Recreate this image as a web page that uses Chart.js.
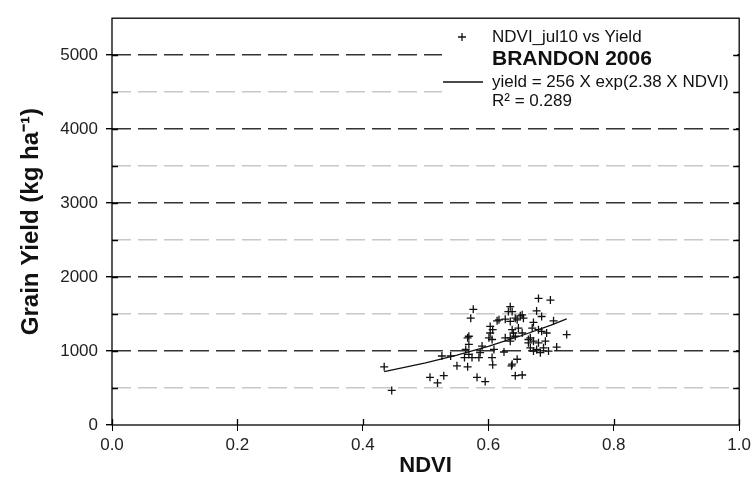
<!DOCTYPE html>
<html>
<head>
<meta charset="utf-8">
<script src="https://cdn.jsdelivr.net/npm/chart.js@4.4.0/dist/chart.umd.min.js"></script>
<style>
  html, body { margin: 0; padding: 0; background: #fff; }
  #wrap { width: 755px; height: 487px; }
</style>
</head>
<body>
<div id="wrap"><canvas id="chart" width="755" height="487"></canvas></div>
<script>
// NDVI_jul10 vs grain yield, Brandon 2006
const ndvi = [
  0.434, 0.446, 0.507, 0.519, 0.529, 0.526, 0.540, 0.550, 0.562, 0.564,
  0.567, 0.567, 0.569, 0.569, 0.572, 0.574, 0.576, 0.582, 0.585, 0.587,
  0.590, 0.595, 0.601, 0.603, 0.603, 0.606, 0.606, 0.607, 0.607, 0.609,
  0.614, 0.617, 0.625, 0.627, 0.627, 0.632, 0.635, 0.635, 0.635, 0.635,
  0.637, 0.638, 0.638, 0.638, 0.643, 0.643, 0.643, 0.646, 0.646, 0.648,
  0.651, 0.654, 0.654, 0.654, 0.656, 0.664, 0.667, 0.667, 0.670, 0.672,
  0.672, 0.672, 0.677, 0.677, 0.680, 0.680, 0.680, 0.683, 0.685, 0.685,
  0.688, 0.691, 0.696, 0.699, 0.704, 0.709, 0.725, 0.664, 0.693, 0.640,
  0.569
];
const grainYield = [
  787, 467, 644, 569, 667, 933, 933, 800, 911, 1022,
  1178, 787, 1089, 956, 1444, 911, 1564, 644, 911, 978,
  1067, 587, 1178, 1333, 1244, 1156, 911, 1289, 813, 1022,
  1409, 1422, 987, 1431, 1178, 1533, 1133, 1600, 1400, 1178,
  800, 822, 1533, 1289, 1444, 1200, 667, 889, 1422, 1311,
  1476, 1244, 676, 1489, 1444, 1111, 1178, 1044, 1311, 1387,
  1133, 1000, 1542, 1022, 1711, 1289, 1111, 978, 1467, 1267,
  1044, 1133, 1000, 1689, 1409, 1053, 1222, 1156, 1244, 1244,
  1200
];

// fitted curve yield = 256 X exp(2.38 X NDVI)
const fitNdvi = [0.434, 0.5, 0.55, 0.6, 0.65, 0.7, 0.725];
const fitYield = [722, 840, 945, 1064, 1200, 1350, 1436];

const legendLines = [
  "NDVI_jul10 vs Yield",
  "BRANDON 2006",
  "yield = 256 X exp(2.38 X NDVI)",
  "R\u00B2 = 0.289"
];

const FONT = "'Liberation Sans', Arial, sans-serif";

const framePlugin = {
  id: "frame",
  beforeDatasetsDraw(chart) {
    const { ctx, chartArea: a, scales } = chart;
    ctx.save();
    // legend box hides the grid lines behind it
    ctx.fillStyle = "#fff";
    ctx.fillRect(442, 26, a.right - 444, 86);

    ctx.strokeStyle = "#000";
    ctx.lineWidth = 1.3;
    ctx.strokeRect(a.left, a.top, a.right - a.left, a.bottom - a.top);

    // inward tick marks
    ctx.beginPath();
    scales.y.ticks.forEach(t => {
      if (t.value <= 0 || t.value >= 5500) return;
      const py = Math.round(scales.y.getPixelForValue(t.value)) + 0.5;
      ctx.moveTo(a.left, py); ctx.lineTo(a.left + 6, py);
      ctx.moveTo(a.right, py); ctx.lineTo(a.right - 6, py);
    });
    scales.x.ticks.forEach(t => {
      const px = Math.round(scales.x.getPixelForValue(t.value)) + 0.5;
      ctx.moveTo(px, a.bottom); ctx.lineTo(px, a.bottom - 6);
    });
    ctx.stroke();
    ctx.restore();
  },
  afterDatasetsDraw(chart) {
    const { ctx } = chart;
    ctx.save();
    ctx.fillStyle = "#111";
    ctx.strokeStyle = "#111";
    ctx.textBaseline = "middle";
    ctx.textAlign = "left";

    // marker sample
    ctx.lineWidth = 1.3;
    ctx.beginPath();
    ctx.moveTo(458, 37); ctx.lineTo(466, 37);
    ctx.moveTo(462, 33); ctx.lineTo(462, 41);
    ctx.stroke();
    ctx.font = "17px " + FONT;
    ctx.fillText(legendLines[0], 492, 37);

    ctx.font = "bold 21px " + FONT;
    ctx.fillText(legendLines[1], 492, 59);

    // line sample
    ctx.beginPath();
    ctx.moveTo(443, 82); ctx.lineTo(483, 82);
    ctx.stroke();
    ctx.font = "17px " + FONT;
    ctx.fillText(legendLines[2], 492, 82);
    ctx.fillText(legendLines[3], 492, 101);
    ctx.restore();
  }
};

const ctx = document.getElementById("chart").getContext("2d");
new Chart(ctx, {
  data: {
    datasets: [
      {
        type: "scatter",
        label: "NDVI_jul10 vs Yield",
        data: ndvi.map((v, i) => ({ x: v, y: grainYield[i] })),
        pointStyle: "cross",
        pointRadius: 4,
        pointBorderWidth: 1.3,
        borderColor: "#111",
        backgroundColor: "#111"
      },
      {
        type: "line",
        label: "fit",
        data: fitNdvi.map((v, i) => ({ x: v, y: fitYield[i] })),
        borderColor: "#111",
        borderWidth: 1.3,
        pointRadius: 0,
        fill: false
      }
    ]
  },
  options: {
    responsive: false,
    animation: false,
    devicePixelRatio: 1,
    layout: { padding: { top: 13, right: 14, left: 0, bottom: 0 } },
    plugins: {
      legend: { display: false },
      tooltip: { enabled: false }
    },
    scales: {
      x: {
        type: "linear",
        min: 0,
        max: 1,
        afterFit(s) { s.height = 62; },
        ticks: {
          stepSize: 0.2,
          callback: v => v.toFixed(1),
          color: "#222",
          font: { family: FONT, size: 17 },
          padding: 4
        },
        grid: {
          drawOnChartArea: false,
          drawTicks: true,
          tickLength: 6,
          tickColor: "#000"
        },
        border: { display: false },
        title: {
          display: true,
          text: "NDVI",
          color: "#111",
          font: { family: FONT, size: 22, weight: "bold" },
          padding: { top: 0, bottom: 8 }
        }
      },
      y: {
        type: "linear",
        min: 0,
        max: 5500,
        afterFit(s) { s.width = 112; },
        ticks: {
          stepSize: 500,
          callback: v => (v % 1000 === 0 && v <= 5000 ? v : ""),
          color: "#222",
          font: { family: FONT, size: 17 },
          padding: 8
        },
        grid: {
          color: c => {
            const v = c.tick ? c.tick.value : 0;
            if (v === 0 || v >= 5500) return "rgba(0,0,0,0)";
            return v % 1000 === 0 ? "#333" : "#c8c8c8";
          },
          lineWidth: 1.4,
          tickLength: 6,
          tickColor: c => (c.tick && c.tick.value % 1000 === 0 ? "#000" : "rgba(0,0,0,0)")
        },
        border: { display: false, dash: [19, 7] },
        title: {
          display: true,
          text: "Grain Yield (kg ha\u207B\u00B9)",
          color: "#111",
          font: { family: FONT, size: 24, weight: "bold" },
          padding: { top: 17, bottom: 0 }
        }
      }
    }
  },
  plugins: [framePlugin]
});
</script>
</body>
</html>
